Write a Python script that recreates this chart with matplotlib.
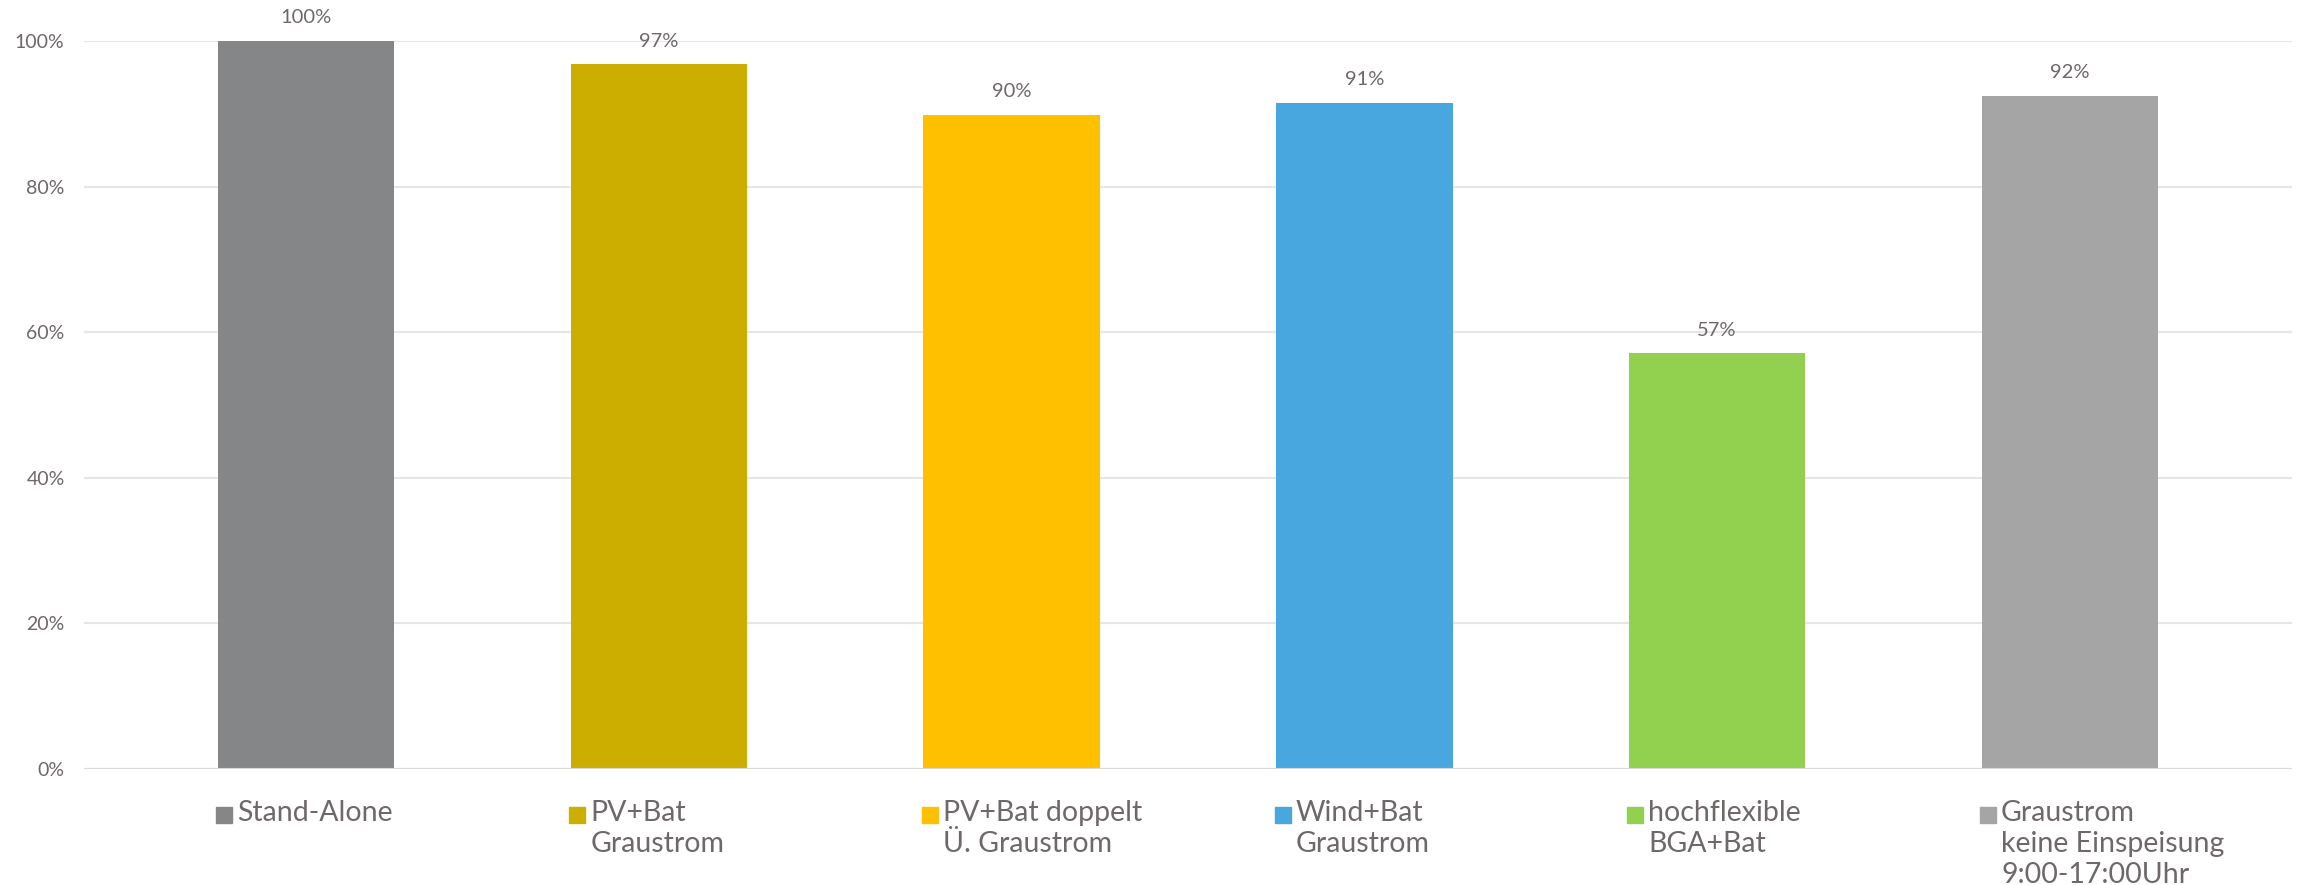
import matplotlib
matplotlib.use("Agg")
import matplotlib.pyplot as plt
import matplotlib.transforms as mtransforms

# data
categories = ["Stand-Alone", "PV+Bat\nGraustrom", "PV+Bat doppelt\nÜ. Graustrom",
              "Wind+Bat\nGraustrom", "hochflexible\nBGA+Bat",
              "Graustrom\nkeine Einspeisung\n9:00-17:00Uhr"]
values = [1.00, 0.968, 0.899, 0.915, 0.571, 0.925]
value_labels = ["100%", "97%", "90%", "91%", "57%", "92%"]
colors = ["#858688", "#CCAE00", "#FFC000", "#49A7DF", "#92D050", "#A5A5A5"]
yticks = [0, 0.2, 0.4, 0.6, 0.8, 1.0]
ytick_labels = ["0%", "20%", "40%", "60%", "80%", "100%"]

text_color = "#6f6868"
plt.rcParams['font.family'] = ['Lato', 'DejaVu Sans']

fig = plt.figure(figsize=(23.01, 8.85), dpi=100)
ax = fig.add_axes([84 / 2301, 116 / 885, 2208 / 2301, 728 / 885])

x = list(range(len(categories)))
ax.bar(x, values, width=0.5, color=colors, zorder=3)

for xi, v, lab in zip(x, values, value_labels):
    ax.text(xi, v + 0.02, lab, ha="center", va="bottom", fontsize=14.5, color=text_color)

ax.set_xlim(-0.63, len(categories) - 1 + 0.63)
ax.set_ylim(0, 1.0)
ax.set_yticks(yticks)
ax.set_yticklabels(ytick_labels, fontsize=14, color=text_color)
ax.set_xticks([])
ax.tick_params(axis="y", length=0, pad=14)
ax.grid(axis="y", color="#e6e6e6", linewidth=1.5, zorder=0)
for s in ax.spines.values():
    s.set_visible(False)
ax.axhline(0, color="#d9d9d9", linewidth=1.5, zorder=4)

# category labels with colour squares, like a legend under each bar
trans = mtransforms.blended_transform_factory(ax.transData, ax.transAxes)
for xi, cat, c in zip(x, categories, colors):
    ax.plot([xi - 0.232], [-0.0625], marker="s", markersize=11, color=c,
            transform=trans, clip_on=False)
    ax.text(xi - 0.195, -0.042, cat, ha="left", va="top", fontsize=20.5,
            color=text_color, transform=trans, linespacing=1.24)

fig.savefig("out.png", dpi=100, facecolor="white")
